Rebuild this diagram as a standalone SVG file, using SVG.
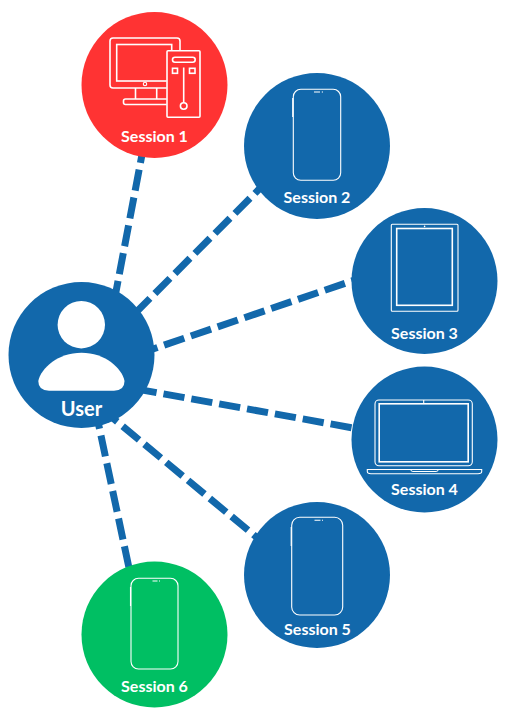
<svg xmlns="http://www.w3.org/2000/svg" width="511" height="720" viewBox="0 0 511 720">
<style>
.bg{fill:#fff}
.blue{fill:#1268ab}
.red{fill:#ff3333}
.green{fill:#00bf63}
.conn{stroke:#1268ab;stroke-width:7;stroke-dasharray:21.3 7;fill:none}
.lbl{font-family:Lato,"Noto Sans",sans-serif;font-weight:700;font-size:16px;fill:#fff;text-anchor:middle}
.ic{fill:none;stroke:#fff;stroke-width:1.1}
.ic2{fill:none;stroke:#fff;stroke-width:1.6}
.w{fill:#fff}
</style>
<rect class="bg" width="511" height="720"/>
<g id="connectors">
<line class="conn" x1="144.4" y1="141.9" x2="112.7" y2="309"/>
<line class="conn" x1="270" y1="178.3" x2="130" y2="318.3"/>
<line class="conn" x1="371.7" y1="274.2" x2="150" y2="350"/>
<line class="conn" x1="379.4" y1="432.7" x2="123.6" y2="386.7"/>
<line class="conn" x1="269.8" y1="548.2" x2="85" y2="395"/>
<line class="conn" x1="134.7" y1="594.8" x2="76.7" y2="321"/>
</g>
<g id="session1">
<circle class="red" cx="154.5" cy="85" r="73"/>
<rect class="ic2" x="110" y="38" width="70" height="50" rx="3"/>
<rect class="ic2" x="116.7" y="44.5" width="55" height="36.5"/>
<circle class="ic" cx="145" cy="84" r="1.7"/>
<path class="ic2" d="M135.5,88V99M156.7,88V99"/>
<rect class="ic2" x="123.5" y="99" width="45" height="5.5" rx="2"/>
<rect class="red" x="166.7" y="50.7" width="33.3" height="66.6"/>
<rect class="ic2" x="167" y="50.7" width="33" height="66.6" rx="1"/>
<rect class="ic2" x="172.5" y="57.3" width="22.7" height="5" rx="2.5"/>
<rect class="ic2" x="172.5" y="68.3" width="5" height="5"/>
<rect class="ic2" x="189.5" y="68.3" width="5.5" height="5"/>
<path class="ic2" d="M183.7,67.5V102.5"/>
<circle class="ic2" cx="183.7" cy="106" r="3.3"/>
<text class="lbl" x="154.5" y="142">Session 1</text>
</g>
<g id="session2">
<circle class="blue" cx="317" cy="146" r="73"/>
<rect class="ic" x="293.3" y="89.3" width="47.4" height="91" rx="7.5"/>
<path class="ic" d="M314,92H320M321.8,92H323"/>
<path class="ic" d="M292.7,98V117"/>
<text class="lbl" x="317" y="203.3">Session 2</text>
</g>
<g id="session3">
<circle class="blue" cx="424.5" cy="281" r="73"/>
<rect class="ic" x="391.3" y="224.3" width="66.7" height="87" rx="1"/>
<rect class="ic2" x="396.7" y="228.5" width="55.6" height="76.8"/>
<circle class="w" cx="424.6" cy="226.4" r="0.8"/>
<text class="lbl" x="424.5" y="339">Session 3</text>
</g>
<g id="session4">
<circle class="blue" cx="424.5" cy="439.5" r="73"/>
<rect class="ic" x="375" y="400" width="97.3" height="65.7" rx="4"/>
<rect class="ic2" x="379.2" y="403.8" width="89" height="58"/>
<path class="ic" d="M423.7,400V403.8"/>
<path class="ic" d="M367.3,469.5H481.7V471.5Q481.7,473.7 478,473.7H371Q367.3,473.7 367.3,471.5Z"/>
<path class="ic" d="M410.7,469.5Q411,471.5 413,471.5H436Q438,471.5 438.3,469.5"/>
<text class="lbl" x="424.5" y="495">Session 4</text>
</g>
<g id="session5">
<circle class="blue" cx="317" cy="575" r="73"/>
<rect class="ic" x="291.7" y="517.3" width="51" height="97.7" rx="8"/>
<path class="ic" d="M314.5,520.3H320.5M322,520.3H323"/>
<path class="ic" d="M291.2,527V546"/>
<text class="lbl" x="317.5" y="635">Session 5</text>
</g>
<g id="session6">
<circle class="green" cx="154.5" cy="634.5" r="73"/>
<rect class="ic" x="131" y="578.3" width="47" height="90.7" rx="7.5"/>
<path class="ic" d="M152.5,581H157.5M159,581H160"/>
<path class="ic" d="M130.5,587V606"/>
<text class="lbl" x="154.5" y="691.7">Session 6</text>
</g>
<g id="user">
<circle class="blue" cx="81.5" cy="355" r="73"/>
<circle class="w" cx="81.3" cy="324.7" r="23.7"/>
<path class="w" d="M49,390.7H114Q124.5,390.7 124.5,381C122,368 105,352.7 81.5,352.7C58,352.7 41,368 38.3,381Q38.3,390.7 49,390.7Z"/>
<text class="lbl" x="81.5" y="415.5" style="font-size:20px">User</text>
</g>
</svg>
